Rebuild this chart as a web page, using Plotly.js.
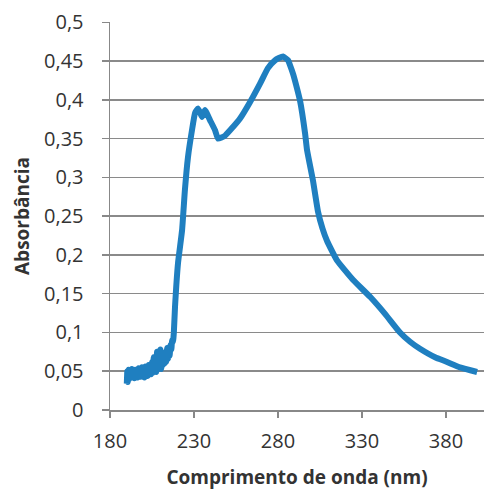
<!DOCTYPE html>
<html>
<head>
<meta charset="utf-8">
<script src="https://cdn.plot.ly/plotly-3.0.1.min.js"></script>
<style>html,body{margin:0;padding:0;background:#fff;}#chart{width:484px;height:490px;}</style>
</head>
<body>
<div id="chart"></div>
<script>
// Wavelength (nm)
const wavelength = [190, 190.3, 190.6, 191, 191.5, 192, 192.5, 193, 193.5, 194, 194.5, 195, 195.5, 196, 196.5, 197, 197.5, 198, 198.5, 199, 199.5, 200, 200.5, 201, 201.5, 202, 202.5, 203, 203.5, 204, 204.5, 205, 205.5, 206, 206.5, 207, 207.5, 208, 208.5, 209, 209.5, 210, 210.5, 211, 211.5, 212, 212.5, 213, 213.5, 214, 214.5, 215, 215.5, 216, 216.5, 217, 217.5, 218, 218.7, 220.5, 222.9, 224.6, 226.4, 228.8, 230.6, 232.4, 234.8, 236.5, 239.5, 242.5, 244.3, 248.5, 253.2, 257.4, 263.3, 269.3, 274, 278.2, 280.5, 283, 286, 287.1, 288.9, 290.7, 293.1, 296.1, 297.3, 300.8, 303.8, 306.5, 309.2, 315.1, 324.6, 334.8, 343.7, 352.6, 358.6, 364.5, 373.5, 380.6, 388.3, 398.5];
// Absorbance
const absorbance = [0.034, 0.05, 0.036, 0.052, 0.04, 0.051, 0.042, 0.053, 0.043, 0.049, 0.041, 0.052, 0.044, 0.05, 0.042, 0.054, 0.045, 0.051, 0.043, 0.055, 0.044, 0.05, 0.042, 0.056, 0.045, 0.052, 0.044, 0.058, 0.047, 0.055, 0.046, 0.062, 0.048, 0.068, 0.05, 0.064, 0.049, 0.075, 0.052, 0.07, 0.054, 0.078, 0.053, 0.07, 0.058, 0.074, 0.06, 0.072, 0.062, 0.08, 0.066, 0.076, 0.07, 0.084, 0.078, 0.09, 0.088, 0.1, 0.133, 0.19, 0.232, 0.284, 0.326, 0.361, 0.383, 0.389, 0.378, 0.387, 0.374, 0.361, 0.35, 0.354, 0.365, 0.376, 0.397, 0.421, 0.441, 0.451, 0.454, 0.456, 0.451, 0.445, 0.434, 0.42, 0.399, 0.357, 0.335, 0.296, 0.256, 0.234, 0.218, 0.193, 0.168, 0.146, 0.124, 0.1, 0.088, 0.079, 0.068, 0.062, 0.055, 0.049];
const xTicks = [180, 230, 280, 330, 380];
const yTickVals = [0, 0.05, 0.1, 0.15, 0.2, 0.25, 0.3, 0.35, 0.4, 0.45, 0.5];
const yTickText = ["0", "0,05", "0,1", "0,15", "0,2", "0,25", "0,3", "0,35", "0,4", "0,45", "0,5"];

const trace = {
  x: wavelength, y: absorbance, type: 'scatter', mode: 'lines',
  line: {color: '#1f7fc0', width: 6, shape: 'spline', smoothing: 0.4},
  hoverinfo: 'skip'
};
const layout = {
  width: 484, height: 490,
  margin: {l: 110, r: 0, t: 22, b: 80},
  paper_bgcolor: '#fff', plot_bgcolor: '#fff',
  showlegend: false,
  font: {family: 'Open Sans, sans-serif', size: 20, color: '#333'},
  xaxis: {
    range: [180, 402.6], tickvals: xTicks, ticktext: xTicks.map(String),
    showgrid: false, zeroline: false, showline: true, linecolor: '#888', linewidth: 1.5,
    ticks: 'outside', ticklen: 6, tickcolor: '#888', tickwidth: 1.5,
    ticklabelstandoff: 6,
    tickfont: {size: 20, color: '#333'},
    title: {text: 'Comprimento de onda (nm)', font: {size: 19, color: '#333', weight: 'bold'}, standoff: 20},
    fixedrange: true
  },
  yaxis: {
    range: [0, 0.5005], tickvals: yTickVals, ticktext: yTickText,
    showgrid: true, gridcolor: '#8a8a8a', gridwidth: 1.5,
    zeroline: false, showline: true, linecolor: '#888', linewidth: 1.5,
    ticks: 'outside', ticklen: 7, tickcolor: '#888', tickwidth: 1.5,
    ticklabelstandoff: 14,
    tickfont: {size: 20, color: '#333'},
    title: {text: 'Absorbância', font: {size: 19, color: '#333', weight: 'bold'}, standoff: 9},
    fixedrange: true
  }
};
Plotly.newPlot('chart', [trace], layout, {displayModeBar: false, staticPlot: true});
</script>
</body>
</html>
